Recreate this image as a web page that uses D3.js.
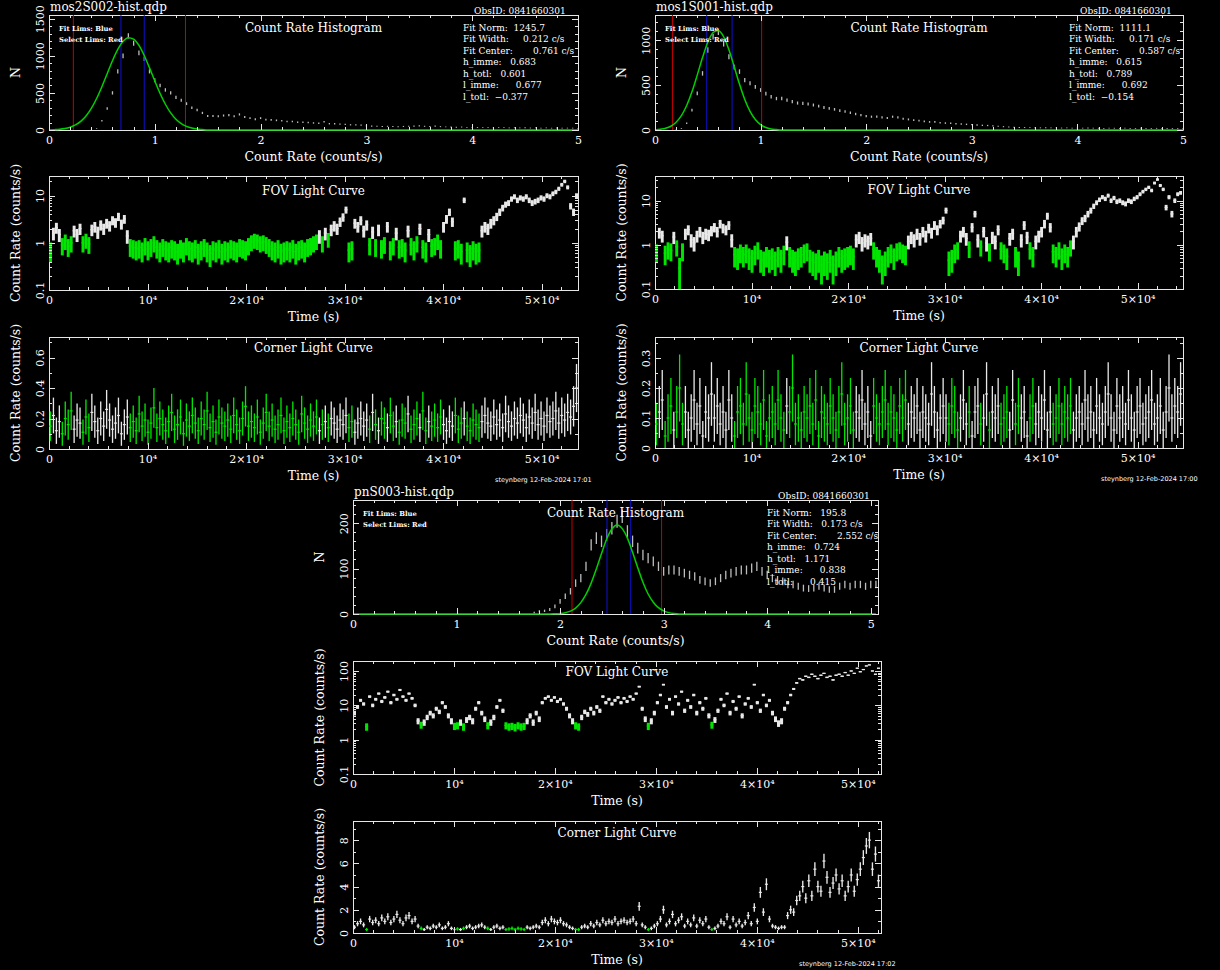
<!DOCTYPE html>
<html>
<head>
<meta charset="utf-8">
<script src="https://cdn.jsdelivr.net/npm/d3@7"></script>
<style>
    body { margin: 0; background: #000; }
    svg { display: block; background: #000; }
    svg text { font-family: "DejaVu Serif", serif; fill: #fff; }
</style>
</head>
<body>
<script>

/*
 * Data (mos2, mos1, pn)
 */

var histBin = 0.05;     // count-rate step of the histogram arrays (c/s)
var lcBin = 300;        // time step of the light-curve arrays (s)
var fovFrameSec = 7;    // exposure used for the Poisson error bars (FOV)
var cornerFrameSec = 16;    // same, corner light curves

var histRateTicks = [0, 1, 2, 3, 4, 5];
var timeTicks = [0, 1e4, 2e4, 3e4, 4e4, 5e4];
var obsId = "ObsID: 0841660301";

// count-rate histograms (N per bin), first bin at 0 c/s
var mos2HistN = [0, 0, 0, 0, 0, 0, 0, 0, 5, 20,
    125, 290, 500, 790, 1000, 1270, 1170, 1040, 960, 790, 670,
    600, 540, 500, 440, 400, 355, 300, 270, 230, 190,
    190, 185, 195, 200, 185, 210, 175, 160, 145, 160,
    140, 135, 130, 125, 115, 115, 105, 105, 100, 95,
    90, 110, 85, 85, 80, 75, 70, 70, 65, 55,
    52, 50, 48, 50, 47, 45, 48, 50, 52, 55,
    50, 48, 52, 45, 42, 40, 38, 40, 36, 35,
    34, 36, 32, 30, 33, 31, 29, 30, 28, 30,
    27, 29, 26, 28, 25, 27, 24, 26, 25, 23];
var mos2HistFit = [0, 4.5, 10, 20, 38, 68, 117, 190, 292, 425, 584, 759, 934, 1086, 1195, 1244, 1225,
    1140, 1004, 837, 660, 492, 347, 231, 146, 87, 49, 26, 13, 6,
    0, 0, 0, 0, 0, 0, 0, 0, 0, 0, 0, 0, 0, 0, 0, 0, 0, 0, 0, 0, 0, 0, 0, 0, 0, 0, 0, 0, 0, 0, 0, 0, 0, 0, 0,
    0, 0, 0, 0, 0, 0, 0, 0, 0, 0, 0, 0, 0, 0, 0, 0, 0, 0, 0, 0, 0, 0, 0, 0, 0, 0, 0, 0, 0, 0, 0, 0, 0, 0, 0, 0];
var mos2FitLims = [0.68, 0.90];
var mos2SelLims = [0.23, 1.29];
var mos2Stats = ["Fit Norm:  1245.7", "Fit Width:     0.212 c/s", "Fit Center:       0.761 c/s",
    "h_imme:   0.683", "h_totl:   0.601", "l_imme:      0.677", "l_totl:  \u22120.377"];

var mos1HistN = [0, 0, 0, 0, 5,
    18, 74, 222, 407, 630, 890, 1040, 1090, 960, 815,
    700, 650, 555, 520, 480, 445, 405, 370, 350, 350,
    333, 315, 300, 296, 290, 278, 266, 250, 240, 230,
    215, 205, 192, 178, 165, 155, 148, 148, 140, 133,
    148, 140, 125, 118, 110, 104, 96, 90, 90, 80,
    77, 74, 70, 66, 63, 60, 56, 52, 50, 45,
    42, 37, 34, 30, 28, 27, 26, 25, 24, 25,
    23, 24, 22, 23, 21, 22, 20, 22, 21, 20,
    19, 21, 20, 18, 20, 19, 18, 20, 19, 17,
    19, 18, 17, 18, 16, 17];
var mos1HistFit = [0, 8, 19, 42, 86, 159, 272, 425, 611, 806, 976, 1085, 1108, 1038, 893, 706, 511,
    340, 208, 117, 60, 28, 12, 5,
    0, 0, 0, 0, 0, 0, 0, 0, 0, 0, 0, 0, 0, 0, 0, 0, 0, 0, 0, 0, 0, 0, 0, 0, 0, 0, 0, 0, 0, 0, 0, 0, 0, 0, 0,
    0, 0, 0, 0, 0, 0, 0, 0, 0, 0, 0, 0, 0, 0, 0, 0, 0, 0, 0, 0, 0, 0, 0, 0, 0, 0, 0, 0, 0, 0, 0, 0, 0, 0,
    0, 0, 0, 0, 0, 0, 0, 0, 0, 0, 0, 0, 0, 0];
var mos1FitLims = [0.49, 0.73];
var mos1SelLims = [0.165, 1.01];
var mos1Stats = ["Fit Norm:  1111.1", "Fit Width:     0.171 c/s", "Fit Center:       0.587 c/s",
    "h_imme:   0.615", "h_totl:   0.789", "l_imme:      0.692", "l_totl:  \u22120.154"];

var pnHistN = [0, 0, 0, 0, 0, 0, 0, 0, 0, 0, 0, 0, 0, 0, 0, 0, 0, 0, 0, 0, 0, 0, 0, 0, 0, 0, 0, 0, 0, 0,
    0, 0, 0, 0, 0,
    3, 6, 7, 10, 17, 28, 39, 50, 68, 79,
    105, 152, 167, 160, 174, 189, 204, 215, 182, 160,
    145, 130, 123, 116, 105, 94, 97, 97, 94, 90,
    86, 83, 75, 72, 68, 72, 79, 86, 90, 94,
    97, 97, 101, 105, 94, 86, 79, 75, 72, 65,
    65, 61, 57, 56, 57, 61, 57, 54, 54, 61,
    65, 61, 65, 65, 61, 65, 65];
var pnHistFit = [0, 0, 0, 0, 0, 0, 0, 0, 0, 0, 0, 0, 0, 0, 0, 0, 0, 0, 0, 0, 0, 0, 0, 0, 0, 0, 0, 0, 0, 0,
    0, 0, 0, 0, 0, 0, 0, 0, 0,
    0.5, 1.2, 2.9, 6.4, 13, 25, 43, 68, 99, 133, 165, 187, 196, 188, 167, 136, 102, 70, 44, 26, 14, 7, 3, 1,
    0, 0, 0, 0, 0, 0, 0, 0, 0, 0, 0, 0, 0, 0, 0, 0, 0, 0, 0, 0, 0, 0, 0, 0, 0, 0, 0, 0, 0, 0,
    0, 0, 0, 0, 0, 0, 0, 0, 0];
var pnFitLims = [2.453, 2.682];
var pnSelLims = [2.115, 2.98];
var pnStats = ["Fit Norm:   195.8", "Fit Width:   0.173 c/s", "Fit Center:       2.552 c/s",
    "h_imme:   0.724", "h_totl:   1.171", "l_imme:      0.838", "l_totl:      0.415"];

// FOV light curves (counts/s), one value per 300 s bin
var mos2Fov = [
    0.7, 1.6, 2.1, 1.5, 0.9, 1.1, 0.85, 1.0, 1.8, 1.5,
    2.0, 1.0, 1.15, 0.95, 1.9, 2.2, 1.7, 2.4, 2.0, 2.6,
    2.3, 3.0, 2.7, 3.6, 2.5, 3.2, 1.4, 0.85, 0.8, 0.75,
    0.8, 0.7, 0.9, 0.75, 0.85, 1.0, 0.8, 0.7, 0.85, 0.75,
    0.7, 0.8, 0.75, 0.65, 0.8, 0.7, 0.9, 0.75, 0.7, 0.8,
    0.65, 0.75, 0.85, 0.7, 0.6, 0.75, 0.7, 0.8, 0.65, 0.75,
    0.7, 0.8, 0.75, 0.7, 0.85, 0.8, 0.75, 0.9, 1.05, 1.15,
    1.1, 1.0, 1.05, 0.95, 0.85, 0.75, 0.7, 0.8, 0.65, 0.7,
    0.75, 0.7, 0.8, 0.65, 0.75, 0.8, 0.7, 0.85, 0.9, 1.0,
    1.1, 1.4, 1.0, 1.6, 1.2, 1.9, 2.3, 2.0, 2.8, 3.5,
    5.0, 0.7, 0.75, 2.6, 2.2, 3.0, 1.8, 2.4, 0.9, 1.7,
    0.85, 1.9, 0.8, 0.95, 2.2, 0.75, 0.9, 1.6, 0.8, 0.85,
    0.7, 1.8, 0.9, 0.75, 1.0, 2.0, 0.8, 0.7, 1.5, 0.85,
    0.9, 1.1, 0.8, 2.2, 3.2, 4.5, 2.8, 0.75, 0.8, 0.65,
    8.0, 0.7, 0.6, 0.75, 0.65, 0.7, 1.8, 2.2, 2.0, 2.6,
    3.0, 3.6, 4.5, 5.5, 6.5, 7.0, 8.5, 9.5, 8.0, 9.0,
    8.5, 9.5, 8.0, 7.0, 7.5, 8.0, 9.0, 8.5, 10.0, 9.5,
    11.0, 12.0, 14.0, 17.0, 20.0, 15.0, 6.0, 4.5, 10.0];
var mos2Corner = [
    .15, .22, .12, .18, .10, .20, .16, .25, .13, .19,
    .17, .11, .21, .14, .24, .18, .12, .20, .15, .26,
    .19, .13, .17, .22, .10, .16, .21, .14, .18, .12,
    .23, .15, .19, .11, .17, .27, .14, .20, .16, .12,
    .18, .24, .13, .16, .21, .10, .19, .15, .22, .17,
    .12, .20, .16, .25, .14, .18, .11, .21, .17, .15,
    .19, .13, .22, .16, .12, .20, .28, .15, .18, .14,
    .21, .11, .17, .24, .15, .19, .13, .16, .22, .12,
    .18, .14, .20, .16, .11, .23, .17, .13, .19, .15,
    .21, .12, .16, .18, .14, .20, .17, .13, .19, .16,
    .22, .14, .18, .11, .17, .20, .15, .19, .13, .24,
    .16, .12, .20, .17, .14, .22, .15, .18, .11, .19,
    .17, .23, .13, .16, .20, .14, .25, .12, .18, .15,
    .19, .14, .21, .16, .12, .18, .15, .22, .13, .17,
    .20, .15, .12, .19, .16, .14, .18, .22, .17, .15,
    .21, .16, .19, .14, .23, .18, .15, .20, .17, .22,
    .19, .14, .21, .17, .24, .16, .20, .15, .22, .18,
    .20, .25, .17, .22, .19, .24, .21, .28, .40];

var mos1Fov = [
    0.7, 1.9, 1.6, 0.65, 0.8, 0.75, 1.5, 0.9, 0.3, 0.75,
    1.8, 2.2, 1.3, 1.1, 1.6, 2.0, 1.5, 1.8, 1.7, 2.1,
    2.5, 2.0, 3.0, 2.4, 2.2, 2.8, 1.3, 0.6, 0.55, 0.7,
    0.6, 0.7, 0.55, 0.5, 0.65, 0.8, 0.5, 0.45, 0.6, 0.5,
    0.55, 0.45, 0.6, 0.5, 0.65, 1.15, 0.6, 0.5, 0.45, 0.55,
    0.6, 0.7, 0.75, 0.5, 0.45, 0.4, 0.5, 0.35, 0.45, 0.4,
    0.5, 0.35, 0.45, 0.6, 0.5, 0.55, 0.6, 0.65, 0.55, 1.3,
    1.5, 1.1, 1.3, 1.2, 1.4, 0.8, 0.6, 0.5, 0.35, 0.45,
    0.6, 0.7, 0.55, 0.75, 0.8, 0.7, 0.65, 1.2, 1.5, 1.3,
    1.8, 1.4, 2.0, 1.6, 2.4, 1.9, 2.8, 2.2, 3.0, 3.6,
    6.0, 0.45, 0.5, 0.7, 0.8, 1.6, 2.0, 1.4, 0.85, 2.5,
    5.0, 1.3, 0.9, 2.0, 1.1, 0.75, 1.5, 1.2, 2.2, 0.8,
    0.7, 0.55, 1.4, 1.8, 0.6, 0.45, 1.3, 2.8, 1.5, 0.8,
    0.6, 1.2, 1.6, 2.0, 3.0, 4.5, 2.5, 0.7, 0.6, 0.8,
    0.55, 0.7, 0.6, 0.9, 1.2, 2.0, 2.6, 3.5, 4.0, 5.0,
    6.0, 7.5, 9.0, 10.5, 12.0, 11.0, 13.0, 10.0, 11.5, 9.5,
    10.0, 9.0, 8.5, 10.0, 9.5, 11.0, 12.0, 14.0, 16.0, 18.0,
    20.0, 17.0, 25.0, 30.0, 22.0, 18.0, 7.0, 12.0, 5.0, 10.0,
    14.0, 15.0];
var mos1Corner = [
    .08, .12, .16, .04, .10, .14, .06, .12, .20, .08,
    .12, .06, .10, .16, .08, .14, .04, .12, .10, .18,
    .10, .14, .08, .12, .06, .16, .10, .04, .12, .14,
    .08, .18, .10, .06, .14, .12, .08, .16, .04, .10,
    .12, .08, .16, .10, .06, .14, .12, .20, .08, .10,
    .06, .12, .10, .14, .08, .16, .04, .12, .10, .08,
    .14, .10, .06, .12, .18, .08, .10, .14, .06, .12,
    .10, .16, .08, .12, .04, .14, .10, .08, .12, .16,
    .08, .12, .10, .06, .14, .10, .16, .08, .12, .10,
    .14, .06, .12, .10, .08, .18, .12, .06, .10, .14,
    .10, .08, .14, .12, .06, .10, .16, .08, .12, .04,
    .12, .14, .08, .10, .18, .06, .12, .10, .14, .08,
    .10, .12, .06, .16, .08, .14, .10, .12, .04, .10,
    .14, .08, .12, .10, .16, .06, .12, .08, .10, .14,
    .08, .12, .10, .14, .06, .10, .12, .08, .16, .10,
    .12, .06, .14, .10, .08, .12, .18, .10, .06, .14,
    .10, .12, .08, .16, .10, .06, .12, .14, .08, .10,
    .12, .16, .08, .10, .14, .06, .12, .20, .10, .14,
    .12, .18];

var pnFov = [
    6.0, 9.0, 14.0, 11.0, 2.4, 18.0, 10.0, 15.0, 22.0, 13.0,
    17.0, 25.0, 12.0, 20.0, 15.0, 28.0, 18.0, 14.0, 22.0, 16.0,
    10.0, 3.5, 2.7, 3.2, 4.5, 6.0, 5.0, 8.0, 6.5, 12.0,
    9.0, 5.0, 3.5, 2.5, 2.6, 3.2, 2.4, 3.8, 4.5, 3.5,
    8.0, 12.0, 6.0, 4.0, 2.6, 3.2, 4.5, 9.0, 14.0, 7.0,
    2.6, 2.4, 2.5, 2.3, 2.6, 2.4, 2.5, 3.5, 5.0, 3.2,
    6.0, 4.0, 12.0, 16.0, 18.0, 14.0, 17.0, 13.0, 15.0, 11.0,
    8.0, 5.0, 3.5, 2.6, 2.4, 4.5, 6.5, 5.5, 8.0, 6.0,
    9.0, 7.0, 18.0, 12.0, 15.0, 11.0, 14.0, 17.0, 12.0, 16.0,
    13.0, 18.0, 15.0, 22.0, 35.0, 8.0, 4.0, 2.5, 3.5, 6.0,
    12.0, 20.0, 40.0, 9.0, 15.0, 6.0, 18.0, 11.0, 25.0, 7.0,
    14.0, 9.0, 20.0, 6.0, 12.0, 8.0, 16.0, 5.0, 2.7, 3.8,
    7.0, 15.0, 10.0, 22.0, 6.0, 13.0, 8.0, 18.0, 5.0, 11.0,
    16.0, 9.0, 40.0, 12.0, 7.0, 20.0, 10.0, 14.0, 6.0, 4.0,
    3.0, 3.5, 8.0, 12.0, 20.0, 30.0, 45.0, 60.0, 55.0, 70.0,
    65.0, 80.0, 70.0, 60.0, 75.0, 85.0, 65.0, 70.0, 55.0, 75.0,
    80.0, 70.0, 90.0, 75.0, 100.0, 85.0, 120.0, 95.0, 110.0, 140.0,
    150.0, 100.0, 80.0, 120.0];
var pnCorner = [
    .5, .8, 1.0, .7, .3, 1.2, .9, 1.1, .8, 1.3,
    1.0, 1.4, .9, 1.2, 1.6, 1.1, .8, 1.3, 1.5, 1.0,
    1.2, .6, .4, .3, .5, .4, .6, .5, .7, .4,
    .5, .8, .4, .3, .35, .3, .4, .5, .6, .4,
    .5, .6, .7, .5, .4, .3, .5, .6, .4, .5,
    .3, .35, .4, .3, .4, .35, .3, .5, .4, .5,
    .6, .5, .9, 1.1, .8, 1.2, 1.0, .9, 1.1, .8,
    .7, .5, .4, .3, .3, .5, .6, .5, .8, .6,
    .9, .7, 1.1, .8, 1.0, .9, 1.2, .8, 1.0, 1.1,
    .9, 1.0, 1.2, .8, 2.3, .7, .5, .3, .4, .6,
    .8, 1.2, 2.0, .7, 1.0, 1.6, .8, 1.1, 1.4, .6,
    1.0, .7, 1.3, .6, 1.1, .8, 1.2, .5, .3, .4,
    .6, 1.0, .8, 1.4, .5, 1.2, .7, 1.0, .6, .9,
    1.5, .8, 2.2, 1.0, 3.5, 1.8, 4.2, 1.2, .6, .5,
    .4, .5, .5, 1.5, 2.0, 1.8, 2.8, 3.2, 4.0, 3.0,
    4.5, 3.2, 5.5, 4.0, 3.6, 6.2, 4.8, 3.5, 4.3, 5.0,
    3.8, 4.5, 3.2, 4.0, 5.0, 3.6, 4.6, 5.5, 6.5, 7.5,
    8.0, 5.5, 6.8, 4.5];


/*
 * Page layout: one block per instrument (histogram, FOV and corner light curve)
 */

var layout = [
    {
        file: "mos2S002-hist.qdp", stamp: "steynberg 12-Feb-2024 17:01",
        counts: mos2HistN, fit: mos2HistFit, fitLims: mos2FitLims, selLims: mos2SelLims, stats: mos2Stats,
        fov: mos2Fov, corner: mos2Corner, tMax: 53700,
        hist: {left: 49, right: 578, top: 15, bottom: 130, xMax: 5, yMax: 1550, yTicks: [0, 500, 1000, 1500], yMinor: 100},
        fovBox: {left: 49, right: 578, top: 176, bottom: 290, yMax: 26, yTicks: [0.1, 1, 10], titleDy: 19},
        cornerBox: {left: 49, right: 578, top: 337, bottom: 449, yMax: 0.735, yTicks: [0, 0.2, 0.4, 0.6], yMinor: 0.1, titleDy: 15}
    },
    {
        file: "mos1S001-hist.qdp", stamp: "steynberg 12-Feb-2024 17:00",
        counts: mos1HistN, fit: mos1HistFit, fitLims: mos1FitLims, selLims: mos1SelLims, stats: mos1Stats,
        fov: mos1Fov, corner: mos1Corner, tMax: 54700,
        hist: {left: 655, right: 1183, top: 15, bottom: 130, xMax: 5, yMax: 1280, yTicks: [0, 500, 1000], yMinor: 100},
        fovBox: {left: 655, right: 1183, top: 176, bottom: 289, yMax: 36, yTicks: [0.1, 1, 10], titleDy: 18},
        cornerBox: {left: 655, right: 1183, top: 337, bottom: 448, yMax: 0.37, yTicks: [0, 0.1, 0.2, 0.3], yMinor: 0.05, titleDy: 15}
    },
    {
        file: "pnS003-hist.qdp", stamp: "steynberg 12-Feb-2024 17:02",
        counts: pnHistN, fit: pnHistFit, fitLims: pnFitLims, selLims: pnSelLims, stats: pnStats,
        fov: pnFov, corner: pnCorner, tMax: 52300,
        hist: {left: 353, right: 878, top: 500, bottom: 614, xMax: 5.07, yMax: 251, yTicks: [0, 100, 200], yMinor: 20},
        fovBox: {left: 353, right: 881, top: 661, bottom: 774, yMax: 195, yTicks: [0.1, 1, 10, 100], titleDy: 15},
        cornerBox: {left: 353, right: 881, top: 821, bottom: 933, yMax: 9.65, yTicks: [0, 2, 4, 6, 8], yMinor: 1, titleDy: 16}
    }
];

var svg = d3.select("body").append("svg")
    .attr("width", 1220)
    .attr("height", 970);

var clipCount = 0;


/*
 * QdpPanel - one framed PGPLOT-style plot
 */

QdpPanel = function (_box, _xDomain, _yDomain, _yLog) {
    this.box = _box;
    this.xDomain = _xDomain;
    this.yDomain = _yDomain;
    this.yLog = _yLog;

    this.initVis();
};

QdpPanel.prototype.initVis = function () {
    var vis = this, b = vis.box;

    vis.x = d3.scaleLinear().domain(vis.xDomain).range([b.left, b.right]);
    vis.y = (vis.yLog ? d3.scaleLog() : d3.scaleLinear()).domain(vis.yDomain).range([b.bottom, b.top]);

    vis.g = svg.append("g");

    var id = "clip-" + (clipCount++);
    vis.g.append("clipPath").attr("id", id)
        .append("rect")
        .attr("x", b.left - 1).attr("y", b.top - 1)
        .attr("width", b.right - b.left + 2).attr("height", b.bottom - b.top + 2);

    vis.g.append("rect")
        .attr("x", b.left).attr("y", b.top)
        .attr("width", b.right - b.left).attr("height", b.bottom - b.top)
        .attr("fill", "none")
        .attr("stroke", "#e6e6e6")
        .attr("shape-rendering", "crispEdges");

    vis.plot = vis.g.append("g").attr("clip-path", "url(#" + id + ")");
};

// ticks drawn inward on one side of the frame
QdpPanel.prototype.tickSet = function (axisFn, scale, values, len, pos, fmt) {
    var horiz = (axisFn === d3.axisBottom || axisFn === d3.axisTop);
    var axis = axisFn(scale)
        .tickValues(values)
        .tickSize(-len)
        .tickPadding(6)
        .tickFormat(fmt || function () { return ""; });

    var g = this.g.append("g")
        .attr("transform", horiz ? "translate(0," + pos + ")" : "translate(" + pos + ",0)")
        .call(axis)
        .attr("font-family", "DejaVu Serif")
        .attr("font-size", 11)
        .attr("color", "#e6e6e6")
        .attr("shape-rendering", "crispEdges");
    g.select(".domain").remove();
    return g;
};

QdpPanel.prototype.addAxes = function (xMajor, xMinor, yMajor, yMinor, xFmt, yFmt) {
    var vis = this, b = vis.box;

    vis.tickSet(d3.axisBottom, vis.x, xMajor, 6, b.bottom, xFmt);
    vis.tickSet(d3.axisBottom, vis.x, xMinor, 3, b.bottom);
    vis.tickSet(d3.axisTop, vis.x, xMajor, 6, b.top);
    vis.tickSet(d3.axisTop, vis.x, xMinor, 3, b.top);

    var left = vis.tickSet(d3.axisLeft, vis.y, yMajor, 6, b.left, yFmt);
    vis.tickSet(d3.axisLeft, vis.y, yMinor, 3, b.left);
    vis.tickSet(d3.axisRight, vis.y, yMajor, 6, b.right);
    vis.tickSet(d3.axisRight, vis.y, yMinor, 3, b.right);

    // PGPLOT writes the y labels vertically
    left.selectAll("text")
        .attr("x", 0)
        .attr("dy", 0)
        .attr("text-anchor", "middle")
        .attr("transform", "translate(-5,0) rotate(-90)");
};

QdpPanel.prototype.addTitles = function (xTitle, yTitle) {
    var vis = this, b = vis.box;

    vis.g.append("text")
        .attr("x", (b.left + b.right) / 2)
        .attr("y", b.bottom + 31)
        .attr("text-anchor", "middle")
        .attr("font-size", 12.5)
        .text(xTitle);

    vis.g.append("text")
        .attr("transform", "translate(" + (b.left - 29) + "," + ((b.top + b.bottom) / 2) + ") rotate(-90)")
        .attr("text-anchor", "middle")
        .attr("font-size", 12.5)
        .text(yTitle);
};

QdpPanel.prototype.addText = function (x, y, str, size, anchor, family, weight) {
    return this.g.append("text")
        .attr("x", x)
        .attr("y", y)
        .attr("text-anchor", anchor || "start")
        .attr("font-size", size)
        .style("font-family", family || null)
        .style("font-weight", weight || null)
        .style("white-space", "pre")
        .text(str);
};

QdpPanel.prototype.drawHistogram = function (counts, fit, fitLims, selLims) {
    var vis = this, b = vis.box;

    var bars = [];
    counts.forEach(function (n, i) {
        if (n > 0) bars.push({rate: i * histBin, n: n});
    });

    // data with Poisson error bars
    vis.plot.selectAll(".hist-bar")
        .data(bars)
        .enter().append("line")
        .attr("class", "hist-bar")
        .attr("x1", function (d) { return vis.x(d.rate); })
        .attr("x2", function (d) { return vis.x(d.rate); })
        .attr("y1", function (d) { return vis.y(d.n + Math.sqrt(d.n)); })
        .attr("y2", function (d) { return vis.y(Math.max(0, d.n - Math.sqrt(d.n))); })
        .attr("stroke", "#bdbdbd")
        .attr("stroke-width", 1.3);

    // selection (red) and fit (blue) limits
    vis.plot.selectAll(".sel-lim")
        .data(selLims)
        .enter().append("line")
        .attr("x1", function (d) { return vis.x(d); })
        .attr("x2", function (d) { return vis.x(d); })
        .attr("y1", b.top).attr("y2", b.bottom)
        .attr("stroke", "#c80000");

    vis.plot.selectAll(".fit-lim")
        .data(fitLims)
        .enter().append("line")
        .attr("x1", function (d) { return vis.x(d); })
        .attr("x2", function (d) { return vis.x(d); })
        .attr("y1", b.top).attr("y2", b.bottom)
        .attr("stroke", "#1010d0");

    // gaussian fit
    var line = d3.line()
        .x(function (d, i) { return vis.x(i * histBin); })
        .y(function (d) { return vis.y(d); })
        .curve(d3.curveMonotoneX);

    vis.plot.append("path")
        .datum(fit)
        .attr("d", line)
        .attr("fill", "none")
        .attr("stroke", "#00d000")
        .attr("stroke-width", 1.5);
};

// widthFrac: share of the bin width covered by each error bar
QdpPanel.prototype.drawLightCurve = function (rates, good, frameSec, widthFrac) {
    var vis = this;
    var floor = vis.y.domain()[0];
    var binPx = vis.x(lcBin) - vis.x(0);

    var pts = [];
    rates.forEach(function (r, i) {
        if (r !== null) pts.push({t: (i + 0.5) * lcBin, rate: r, good: good[i]});
    });

    var colour = function (d) { return d.good ? "#00e600" : "#e8e8e8"; };

    // error bars
    vis.plot.selectAll(".lc-err")
        .data(pts)
        .enter().append("line")
        .attr("class", "lc-err")
        .attr("x1", function (d) { return vis.x(d.t); })
        .attr("x2", function (d) { return vis.x(d.t); })
        .attr("y1", function (d) { return vis.y(d.rate + Math.sqrt(d.rate / frameSec)); })
        .attr("y2", function (d) { return vis.y(Math.max(d.rate - Math.sqrt(d.rate / frameSec), floor)); })
        .attr("stroke-width", Math.max(1, binPx * widthFrac))
        .attr("stroke", colour);

    // bin width at the measured rate
    vis.plot.selectAll(".lc-bin")
        .data(pts)
        .enter().append("line")
        .attr("class", "lc-bin")
        .attr("x1", function (d) { return vis.x(d.t - lcBin / 2); })
        .attr("x2", function (d) { return vis.x(d.t + lcBin / 2); })
        .attr("y1", function (d) { return vis.y(d.rate); })
        .attr("y2", function (d) { return vis.y(d.rate); })
        .attr("stroke-width", 1.2)
        .attr("stroke", colour);
};


/*
 * Helpers for tick values and labels
 */

function stepTicks(max, step) {
    return d3.range(0, max + 1e-9, step);
}

function logMinorTicks(domain) {
    var out = [];
    [0.1, 1, 10, 100].forEach(function (dec) {
        for (var m = 2; m < 10; m++) {
            var v = dec * m;
            if (v > domain[0] && v < domain[1]) out.push(v);
        }
    });
    return out;
}

function timeLabel(t) {
    if (t === 0) return "0";
    var n = t / 1e4;
    return (n === 1 ? "" : n + "\u00d7") + "10\u2074";
}

function goodMask(fov, sel) {
    return fov.map(function (r) {
        return r !== null && r >= sel[0] && r <= sel[1];
    });
}


/*
 * Draw the three instruments
 */

layout.forEach(function (inst) {

    // ---- Count rate histogram
    var hb = inst.hist;
    var hist = new QdpPanel(hb, [0, hb.xMax], [0, hb.yMax], false);
    hist.addAxes(histRateTicks, stepTicks(hb.xMax, 0.2), hb.yTicks, stepTicks(hb.yMax, hb.yMinor), String, String);
    hist.drawHistogram(inst.counts, inst.fit, inst.fitLims, inst.selLims);
    hist.addTitles("Count Rate (counts/s)", "N");

    hist.addText(hb.left + 1, hb.top - 4, inst.file, 12);
    hist.addText(hb.left + 425, hb.top - 1, obsId, 9);
    hist.addText((hb.left + hb.right) / 2, hb.top + 17, "Count Rate Histogram", 12, "middle");
    hist.addText(hb.left + 10, hb.top + 15.5, "Fit Lims: Blue", 6.8, "start", null, "bold");
    hist.addText(hb.left + 10, hb.top + 27, "Select Lims: Red", 6.8, "start", null, "bold");
    inst.stats.forEach(function (s, i) {
        hist.addText(hb.left + 414, hb.top + 15.5 + i * 11.5, s, 9);
    });

    var good = goodMask(inst.fov, inst.selLims);

    // ---- FOV light curve
    var fb = inst.fovBox;
    var fov = new QdpPanel(fb, [0, inst.tMax], [0.1, fb.yMax], true);
    fov.addAxes(timeTicks, stepTicks(inst.tMax, 2000), fb.yTicks, logMinorTicks([0.1, fb.yMax]), timeLabel, String);
    fov.drawLightCurve(inst.fov, good, fovFrameSec, 1.0);
    fov.addTitles("Time (s)", "Count Rate (counts/s)");
    fov.addText((fb.left + fb.right) / 2, fb.top + fb.titleDy, "FOV Light Curve", 12, "middle");

    // ---- Corner light curve
    var cb = inst.cornerBox;
    var corner = new QdpPanel(cb, [0, inst.tMax], [0, cb.yMax], false);
    corner.addAxes(timeTicks, stepTicks(inst.tMax, 2000), cb.yTicks, stepTicks(cb.yMax, cb.yMinor), timeLabel, String);
    corner.drawLightCurve(inst.corner, good, cornerFrameSec, 0.45);
    corner.addTitles("Time (s)", "Count Rate (counts/s)");
    corner.addText((cb.left + cb.right) / 2, cb.top + cb.titleDy, "Corner Light Curve", 12, "middle");
    corner.addText(cb.left + 446, cb.bottom + 33, inst.stamp, 6.5, "start", "DejaVu Sans");
});

</script>
</body>
</html>
